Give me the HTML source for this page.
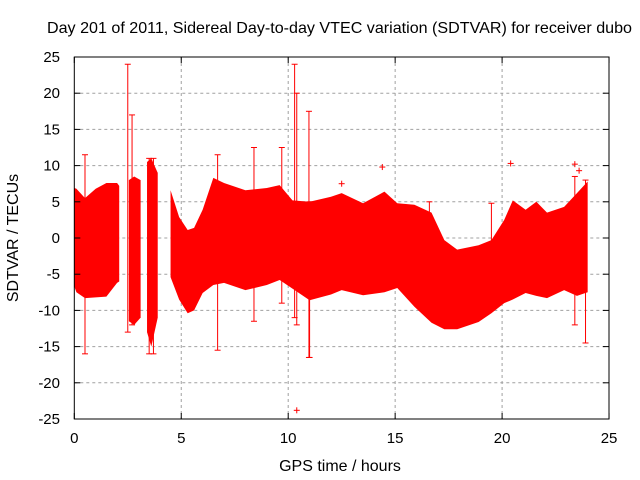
<!DOCTYPE html>
<html><head><meta charset="utf-8"><style>
html,body{margin:0;padding:0;background:#fff;}
svg{display:block;font-family:"Liberation Sans",sans-serif;}
</style></head><body>
<svg id="chart" width="640" height="480" viewBox="0 0 640 480" xmlns="http://www.w3.org/2000/svg">
<text x="47" y="33" font-size="16" textLength="585" lengthAdjust="spacingAndGlyphs" fill="#000">Day 201 of 2011, Sidereal Day-to-day VTEC variation (SDTVAR) for receiver dubo</text>
<g id="grid"></g>
<g id="data"></g>
<rect x="74.3" y="57" width="534.7" height="362" fill="none" stroke="#000" stroke-width="1"/>
<g id="ticks"></g>
<text x="340" y="471" font-size="16" text-anchor="middle">GPS time / hours</text>
<text transform="translate(18,238) rotate(-90)" font-size="16" text-anchor="middle">SDTVAR / TECUs</text>
</svg>
<script>
const xTicks=[0,5,10,15,20,25];
const yTicks=[25,20,15,10,5,0,-5,-10,-15,-20,-25];
// envelope blocks: hours, upper, lower
const block1Hours=[0.0,0.1,0.5,1.0,1.5,2.0,2.1];
const block1Upper=[6.9,6.8,5.5,6.8,7.6,7.6,7.2];
const block1Lower=[-6.7,-7.5,-8.3,-8.2,-8.1,-6.2,-6.0];
const block2Hours=[2.55,2.8,3.1];
const block2Upper=[8.0,8.5,8.0];
const block2Lower=[-11.5,-12.0,-11.0];
const block3Hours=[3.4,3.6,3.9];
const block3Upper=[10.5,11.0,9.0];
const block3Lower=[-13.0,-15.0,-11.0];
const block4Hours=[4.5,4.9,5.3,5.6,6.0,6.5,7.0,8.0,9.0,9.6,10.2,11.0,12.0,12.5,13.5,14.5,15.1,15.9,16.7,17.3,17.9,18.9,19.5,20.1,20.5,21.1,21.6,22.1,22.9,23.5,24.0];
const block4Upper=[6.6,2.9,1.1,1.4,3.9,8.3,7.6,6.6,6.9,7.3,5.2,5.0,5.7,6.2,4.8,6.4,4.8,4.6,3.5,-0.3,-1.6,-1.0,-0.3,2.5,5.2,3.9,5.0,3.5,4.3,6.2,7.8];
const block4Lower=[-5.4,-8.5,-10.4,-10.0,-7.6,-6.5,-6.2,-7.2,-6.5,-5.8,-7.0,-8.6,-7.8,-7.2,-7.9,-7.5,-6.9,-9.5,-11.7,-12.6,-12.6,-11.6,-10.4,-9.0,-8.5,-7.6,-8.0,-8.3,-7.2,-8.0,-7.5];
const spikeHours=[0.5,2.5,2.7,3.5,3.7,6.7,8.4,9.7,10.3,10.4,10.97,11.0,16.6,19.5,23.4,23.9];
const spikeHigh=[11.5,24.0,17.0,11.0,11.0,11.5,12.5,12.5,24.0,20.0,17.5,5.0,5.0,4.8,8.5,8.0];
const spikeLow=[-16.0,-13.0,-12.0,-16.0,-16.0,-15.5,-11.5,-9.0,-11.0,-12.0,-16.5,-16.5,-8.0,-8.0,-12.0,-14.5];
const outlierHours=[10.4,12.5,14.4,20.4,23.4,23.6];
const outlierValues=[-23.8,7.5,9.8,10.3,10.2,9.3];

const X=h=>74.3+h*21.39;
const Y=v=>238-v*7.24;
const NS="http://www.w3.org/2000/svg";
function mk(tag,attrs,parent){const e=document.createElementNS(NS,tag);for(const k in attrs)e.setAttribute(k,attrs[k]);parent.appendChild(e);return e;}
const grid=document.getElementById('grid'),ticks=document.getElementById('ticks'),data=document.getElementById('data');
xTicks.forEach(t=>{
  if(t>0&&t<25){const l=mk('line',{x1:X(t),x2:X(t),y1:57,y2:419,stroke:'#a0a0a0','stroke-dasharray':'3,3'},grid);
  
  }
  mk('line',{x1:X(t),x2:X(t),y1:419,y2:413,stroke:'#000'},ticks);
  mk('line',{x1:X(t),x2:X(t),y1:57,y2:63,stroke:'#000'},ticks);
  const tx=mk('text',{x:X(t),y:443,'font-size':15,'text-anchor':'middle'},ticks);tx.textContent=t;
  
  
});
yTicks.forEach(t=>{
  if(t>-25&&t<25){const l=mk('line',{x1:74.3,x2:609,y1:Y(t),y2:Y(t),stroke:'#a0a0a0','stroke-dasharray':'3,3'},grid);
  
  }
  mk('line',{x1:74.3,x2:80.3,y1:Y(t),y2:Y(t),stroke:'#000'},ticks);
  mk('line',{x1:609,x2:603,y1:Y(t),y2:Y(t),stroke:'#000'},ticks);
  const tx=mk('text',{x:60,y:Y(t)+5,'font-size':15,'text-anchor':'end'},ticks);tx.textContent=t;
  
  
});
[[block1Hours,block1Upper,block1Lower],[block2Hours,block2Upper,block2Lower],[block3Hours,block3Upper,block3Lower],[block4Hours,block4Upper,block4Lower]].forEach((b,i)=>{
  const [h,u,l]=b;let pts=[];
  h.forEach((x,j)=>pts.push(X(x)+','+Y(u[j])));
  for(let j=h.length-1;j>=0;j--)pts.push(X(h[j])+','+Y(l[j]));
  const p=mk('polygon',{points:pts.join(' '),fill:'#ff0000'},data);
  
  
});
spikeHours.forEach((h,i)=>{
  const x=X(h);
  const g=mk('g',{stroke:'#ff0000','stroke-width':1},data);
  
  
  mk('line',{x1:x,x2:x,y1:Y(spikeHigh[i]),y2:Y(spikeLow[i])},g);
  mk('line',{x1:x-3,x2:x+3,y1:Y(spikeHigh[i]),y2:Y(spikeHigh[i])},g);
  mk('line',{x1:x-3,x2:x+3,y1:Y(spikeLow[i]),y2:Y(spikeLow[i])},g);
});
outlierHours.forEach((h,i)=>{
  const x=X(h),y=Y(outlierValues[i]);
  const g=mk('g',{stroke:'#ff0000','stroke-width':1},data);
  
  
  mk('line',{x1:x-3,x2:x+3,y1:y,y2:y},g);
  mk('line',{x1:x,x2:x,y1:y-3,y2:y+3},g);
});
</script>
</body></html>
